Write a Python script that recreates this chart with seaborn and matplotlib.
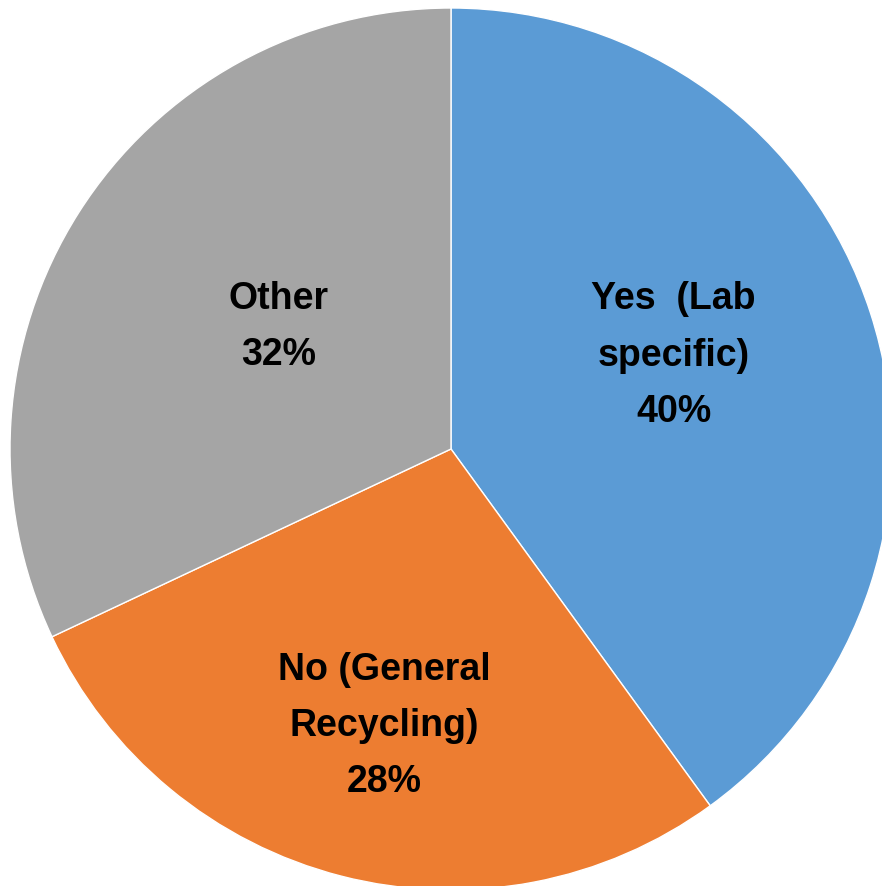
import matplotlib
matplotlib.use("Agg")
import matplotlib.pyplot as plt
import seaborn as sns

# data
categories = ['Yes  (Lab\nspecific)', 'No (General\nRecycling)', 'Other']
shares = [40, 28, 32]
colors = ['#5B9BD5', '#ED7D31', '#A5A5A5']
# label spots in pie units (radius 1)
label_xy = [(0.505, 0.212), (-0.152, -0.628), (-0.39, 0.277)]

sns.set_theme(style='white')
plt.rcParams['font.family'] = ['Liberation Sans', 'DejaVu Sans']

fig = plt.figure(figsize=(8.82, 8.86), dpi=100)
# centre at (451, 449) px, radius ~441 px
ax = fig.add_axes([10 / 882, (437 - 441) / 886, 882 / 882, 882 / 886])

wedges, _ = ax.pie(shares, colors=colors, startangle=90, counterclock=False,
                   radius=1, wedgeprops=dict(edgecolor='white', linewidth=1))

for cat, val, (x, y) in zip(categories, shares, label_xy):
    ax.text(x, y, cat + '\n' + str(val) + '%', ha='center', va='center',
            fontsize=27, fontweight='bold', color='black', linespacing=1.72)

ax.set_xlim(-1, 1)
ax.set_ylim(-1, 1)
ax.set_aspect('equal')
ax.axis('off')

fig.savefig('out.png', dpi=100)
